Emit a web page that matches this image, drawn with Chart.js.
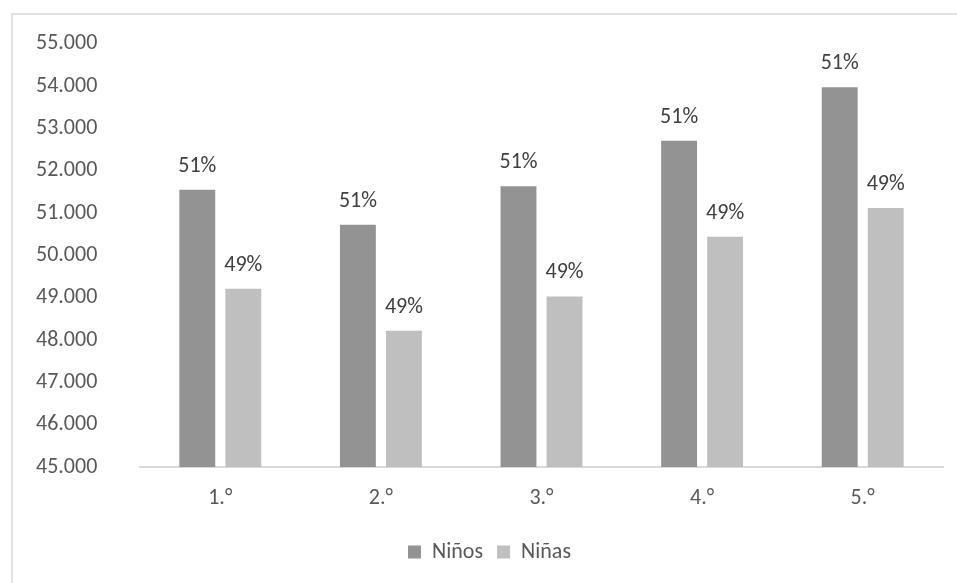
<!DOCTYPE html>
<html>
<head>
<meta charset="utf-8">
<script src="https://cdn.jsdelivr.net/npm/chart.js@4.4.1/dist/chart.umd.min.js"></script>
<style>
  html, body { margin: 0; padding: 0; background: #ffffff; }
  #wrap { position: relative; width: 957px; height: 583px; }
</style>
</head>
<body>
<div id="wrap"><canvas id="chart" width="957" height="583"></canvas></div>
<script>
// Students enrolled per grade, by sex
const grades = ['1.°', '2.°', '3.°', '4.°', '5.°'];
const ninos = [51550, 50720, 51630, 52710, 53970];
const ninas = [49210, 48220, 49030, 50440, 51120];
const yTicks = [45000, 46000, 47000, 48000, 49000, 50000, 51000, 52000, 53000, 54000, 55000];

const FONT = 'Calibri, Carlito, Lato, sans-serif';
const TEXT = '#595959';
const SIZE = 22;

function fmtThousands(v) {
  return String(v).replace(/\B(?=(\d{3})+(?!\d))/g, '.');
}

// Outer frame of the chart (left and top edges visible)
const framePlugin = {
  id: 'frame',
  beforeDraw(chart) {
    const ctx = chart.ctx;
    ctx.save();
    ctx.fillStyle = '#ffffff';
    ctx.fillRect(0, 0, chart.width, chart.height);
    ctx.strokeStyle = '#d9d9d9';
    ctx.lineWidth = 1.5;
    ctx.strokeRect(12, 14, chart.width + 20, chart.height + 20);
    ctx.restore();
  }
};

// Share of each sex within its grade, written above each bar
const shareLabels = {
  id: 'shareLabels',
  afterDatasetsDraw(chart) {
    const ctx = chart.ctx;
    ctx.save();
    ctx.font = SIZE + 'px ' + FONT;
    ctx.fillStyle = '#404040';
    ctx.textAlign = 'center';
    ctx.textBaseline = 'alphabetic';
    chart.data.datasets.forEach((ds, di) => {
      const meta = chart.getDatasetMeta(di);
      meta.data.forEach((bar, i) => {
        const total = ninos[i] + ninas[i];
        const pct = Math.round(ds.data[i] / total * 100) + '%';
        ctx.fillText(pct, bar.x, bar.y - 18);
      });
    });
    ctx.restore();
  }
};

new Chart(document.getElementById('chart'), {
  type: 'bar',
  data: {
    labels: grades,
    datasets: [
      { label: 'Niños', data: ninos, backgroundColor: '#939393', borderWidth: 0 },
      { label: 'Niñas', data: ninas, backgroundColor: '#bfbfbf', borderWidth: 0 }
    ]
  },
  options: {
    responsive: false,
    animation: false,
    devicePixelRatio: 1,
    datasets: { bar: { categoryPercentage: 0.573, barPercentage: 0.78 } },
    layout: { autoPadding: false, padding: { top: 43.7, right: 14, bottom: 10, left: 36 } },
    plugins: {
      tooltip: { enabled: false },
      legend: {
        position: 'bottom',
        labels: {
          font: { family: FONT, size: SIZE },
          color: TEXT,
          boxWidth: 13,
          boxHeight: 13,
          padding: 14
        }
      }
    },
    scales: {
      x: {
        grid: { display: false, drawTicks: false },
        border: { display: true, color: '#d9d9d9', width: 2 },
        ticks: { font: { family: FONT, size: SIZE }, color: TEXT, padding: 18 },
        afterFit(scale) { scale.height = 60; }
      },
      y: {
        min: 45000,
        max: 55000,
        grid: { display: false, drawTicks: false },
        border: { display: false },
        afterBuildTicks(scale) { scale.ticks = yTicks.map(v => ({ value: v })); },
        ticks: {
          font: { family: FONT, size: SIZE },
          color: TEXT,
          padding: 0,
          crossAlign: 'far',
          callback: v => fmtThousands(v)
        },
        afterFit(scale) { scale.width = 104; }
      }
    }
  },
  plugins: [framePlugin, shareLabels]
});
</script>
</body>
</html>
